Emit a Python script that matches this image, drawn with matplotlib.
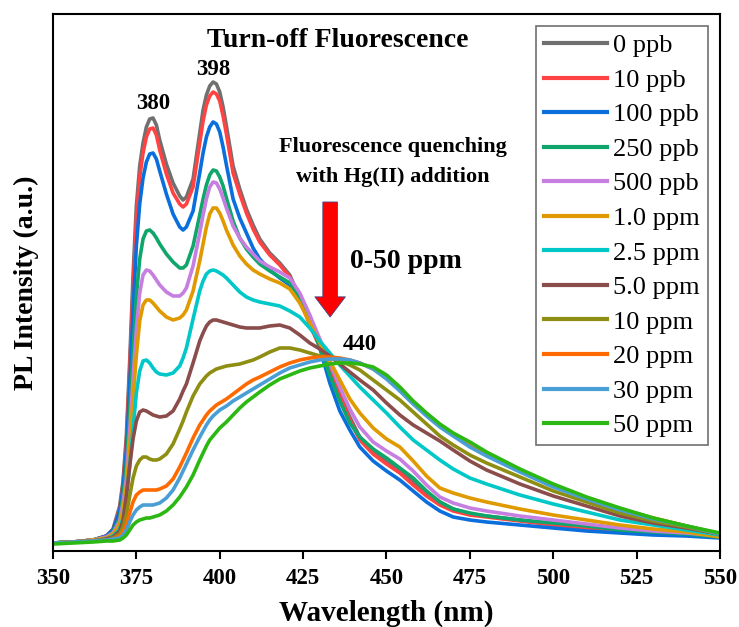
import matplotlib
matplotlib.use('Agg')
import matplotlib.pyplot as plt

plt.rcParams['font.family'] = ['Liberation Serif', 'DejaVu Serif']

# wavelength grid (nm)
wl = [350, 356, 362, 366, 368, 370, 371, 372, 373, 374, 375, 376, 377, 378, 379, 380,
      381, 382, 384, 386, 388, 389, 390, 392, 394, 395, 396, 397, 398, 399, 400, 401,
      402, 404, 406, 408, 410, 412, 415, 418, 421, 424, 427, 430, 433, 436, 439, 442,
      446, 450, 454, 458, 462, 466, 470, 475, 480, 490, 500, 510, 520, 530, 540, 550]

# PL intensity (a.u.)
i_0ppb = [8, 9, 11, 15, 22, 45, 70, 115, 190, 275, 345, 385, 408, 424, 432, 433,
          426, 411, 387, 368, 355, 351, 354, 372, 418, 441, 456, 465, 469, 467, 459, 444,
          425, 385, 362, 342, 326, 312, 298, 288, 276, 253, 228, 206, 181, 157, 134, 114,
          99, 89, 80, 69, 58, 49, 42, 37, 35, 31, 27, 24, 21, 19, 17, 15]
i_10ppb = [8, 9, 11, 15, 21, 42, 66, 108, 180, 262, 333, 374, 398, 414, 422, 423,
           416, 401, 377, 358, 347, 344, 347, 364, 408, 430, 446, 455, 459, 457, 450, 435,
           417, 378, 357, 338, 322, 309, 296, 286, 274, 252, 226, 204, 179, 155, 131, 111,
           97, 87, 78, 66, 55, 46, 40, 36, 34, 30, 26, 23, 20, 18, 16, 14]
i_100ppb = [8, 9, 11, 15, 21, 40, 63, 100, 165, 240, 305, 347, 373, 389, 397, 398,
            392, 380, 357, 337, 324, 321, 324, 340, 378, 398, 414, 424, 429, 427, 419, 404,
            386, 352, 333, 318, 303, 292, 281, 273, 266, 256, 235, 203, 168, 140, 121, 104,
            90, 80, 71, 60, 49, 40, 34, 31, 29, 26, 23, 20, 18, 16, 15, 13]
i_250ppb = [8, 9, 11, 14, 19, 33, 55, 85, 140, 200, 255, 292, 312, 320, 321, 318,
            313, 307, 297, 289, 283, 283, 286, 305, 336, 352, 366, 376, 381, 380, 374, 365,
            353, 330, 313, 302, 294, 287, 280, 274, 268, 254, 231, 204, 176, 150, 128, 114,
            102, 93, 83, 73, 60, 49, 42, 38, 35, 31, 28, 25, 21, 19, 17, 14]
i_500ppb = [8, 9, 11, 14, 18, 30, 48, 72, 120, 172, 222, 258, 276, 281, 280, 276,
            271, 266, 259, 255, 255, 258, 263, 285, 318, 336, 352, 364, 369, 368, 362, 353,
            343, 325, 313, 304, 297, 290, 284, 279, 273, 258, 236, 212, 188, 164, 142, 124,
            109, 100, 92, 80, 66, 54, 48, 43, 40, 35, 31, 27, 23, 20, 18, 15]
i_1ppm = [8, 9, 11, 13, 17, 27, 42, 64, 105, 152, 196, 230, 246, 251, 251, 248,
          244, 240, 234, 231, 233, 236, 241, 260, 290, 307, 324, 337, 343, 343, 338, 330,
          321, 306, 295, 287, 281, 277, 272, 268, 262, 248, 228, 208, 190, 171, 152, 138,
          123, 112, 104, 90, 75, 63, 58, 53, 49, 42, 36, 31, 26, 22, 19, 14]
i_2_5ppm = [8, 9, 10, 12, 15, 22, 33, 52, 85, 122, 158, 180, 190, 191, 188, 183,
            179, 177, 176, 178, 185, 193, 203, 232, 260, 270, 277, 280, 281, 280, 278, 276,
            273, 266, 259, 254, 251, 249, 247, 245, 240, 234, 223, 210, 198, 186, 175, 164,
            151, 138, 124, 111, 101, 91, 82, 73, 67, 56, 47, 39, 31, 26, 21, 16]
i_5ppm = [8, 9, 10, 12, 14, 20, 30, 55, 85, 112, 130, 139, 141, 140, 138, 136,
          135, 134, 135, 140, 152, 160, 167, 188, 210, 218, 225, 229, 231, 231, 230, 229,
          228, 226, 224, 223, 223, 223, 225, 226, 223, 216, 208, 202, 195, 187, 179, 171,
          161, 148, 136, 126, 118, 110, 101, 90, 81, 67, 55, 45, 35, 28, 23, 17]
i_10ppm = [8, 9, 10, 11, 13, 17, 24, 36, 55, 73, 85, 91, 94, 94, 92, 91,
           91, 92, 97, 107, 122, 130, 139, 155, 167, 171, 175, 178, 180, 182, 183, 184,
           185, 186, 187, 189, 191, 194, 199, 203, 203, 201, 198, 195, 193, 190, 186, 181,
           171, 161, 151, 139, 127, 115, 106, 96, 88, 74, 60, 49, 38, 30, 24, 17]
i_20ppm = [8, 9, 10, 11, 12, 15, 19, 27, 38, 49, 56, 59, 61, 61, 61, 61,
           61, 62, 65, 72, 84, 91, 98, 113, 126, 131, 136, 140, 143, 146, 148, 150,
           152, 157, 162, 167, 171, 174, 179, 184, 188, 191, 193, 194, 194, 193, 191, 188,
           182, 173, 161, 148, 136, 125, 116, 105, 96, 80, 65, 53, 42, 33, 25, 17]
i_30ppm = [8, 9, 10, 11, 12, 13, 16, 21, 29, 36, 41, 44, 46, 46, 46, 46,
           47, 48, 53, 61, 73, 80, 87, 101, 114, 120, 126, 131, 135, 138, 141, 143,
           145, 150, 154, 158, 162, 166, 172, 178, 183, 186, 189, 191, 192, 192, 191, 188,
           182, 172, 160, 147, 135, 124, 115, 104, 95, 79, 64, 52, 41, 32, 25, 17]
i_50ppm = [7, 8, 9, 10, 10, 11, 13, 16, 21, 26, 29, 31, 32, 33, 33, 34,
           35, 36, 40, 46, 54, 59, 64, 76, 91, 98, 105, 111, 115, 119, 123, 126,
           129, 136, 143, 149, 154, 159, 166, 172, 176, 180, 183, 185, 187, 188, 188, 187,
           184, 176, 164, 150, 138, 127, 118, 109, 99, 82, 67, 54, 43, 33, 25, 18]

labels = ['0 ppb', '10 ppb', '100 ppb', '250 ppb', '500 ppb', '1.0 ppm',
          '2.5 ppm', '5.0 ppm', '10 ppm', '20 ppm', '30 ppm', '50 ppm']
series = [i_0ppb, i_10ppb, i_100ppb, i_250ppb, i_500ppb, i_1ppm,
          i_2_5ppm, i_5ppm, i_10ppm, i_20ppm, i_30ppm, i_50ppm]
colors = ['#707070', '#ff4242', '#0a6fdc', '#0ea66a', '#c67ee0', '#e09a00',
          '#00c8c8', '#8b4c4c', '#8e8e12', '#ff6a00', '#4a9ed6', '#2cb812']

fig = plt.figure(figsize=(7.39, 6.27), dpi=100)
ax = fig.add_axes([0.0717, 0.1212, 0.9026, 0.8565])

for y, c, lab in zip(series, colors, labels):
    ax.plot(wl, y, color=c, lw=2.6, label=lab, solid_joinstyle='round')

ax.set_xlim(350, 550)
ax.set_ylim(0, 537)
ax.set_xticks(range(350, 551, 25))
ax.set_yticks([])
ax.tick_params(axis='x', direction='out', length=6, width=1.5, labelsize=16.5, pad=6)
for t in ax.get_xticklabels():
    t.set_fontweight('bold')
for s in ax.spines.values():
    s.set_linewidth(1.5)

ax.set_xlabel('Wavelength (nm)', fontsize=21, fontweight='bold', labelpad=8)
ax.set_ylabel('PL Intensity (a.u.)', fontsize=20, fontweight='bold', labelpad=10)

ax.text(435.5, 510, 'Turn-off Fluorescence', fontsize=20, fontweight='bold', ha='center', va='center')
ax.text(380, 447, '380', fontsize=16.5, fontweight='bold', ha='center', va='center')
ax.text(398, 481, '398', fontsize=16.5, fontweight='bold', ha='center', va='center')
ax.text(442, 206, '440', fontsize=16.5, fontweight='bold', ha='center', va='center')
ax.text(452, 404, 'Fluorescence quenching', fontsize=16, fontweight='bold', ha='center', va='center')
ax.text(452, 374, 'with Hg(II) addition', fontsize=16, fontweight='bold', ha='center', va='center')
ax.text(439, 289, '0-50 ppm', fontsize=20, fontweight='bold', ha='left', va='center')

ax.annotate('', xy=(433.1, 234), xytext=(433.1, 349),
            arrowprops=dict(arrowstyle='simple,head_width=2.2,head_length=1.45,tail_width=1.05',
                            mutation_scale=10, fc='#ff0000', ec='#3a4a8a', lw=0.6,
                            shrinkA=0, shrinkB=0))

leg = ax.legend(loc='upper right', fontsize=19, handlelength=2.4, handletextpad=0.25,
                labelspacing=0.42, borderaxespad=0.45, borderpad=0.3, fancybox=False,
                framealpha=1)
leg.get_frame().set_edgecolor('#707070')
leg.get_frame().set_linewidth(1.2)
for h in leg.get_lines():
    h.set_linewidth(3)

fig.savefig('out.png', dpi=100)
